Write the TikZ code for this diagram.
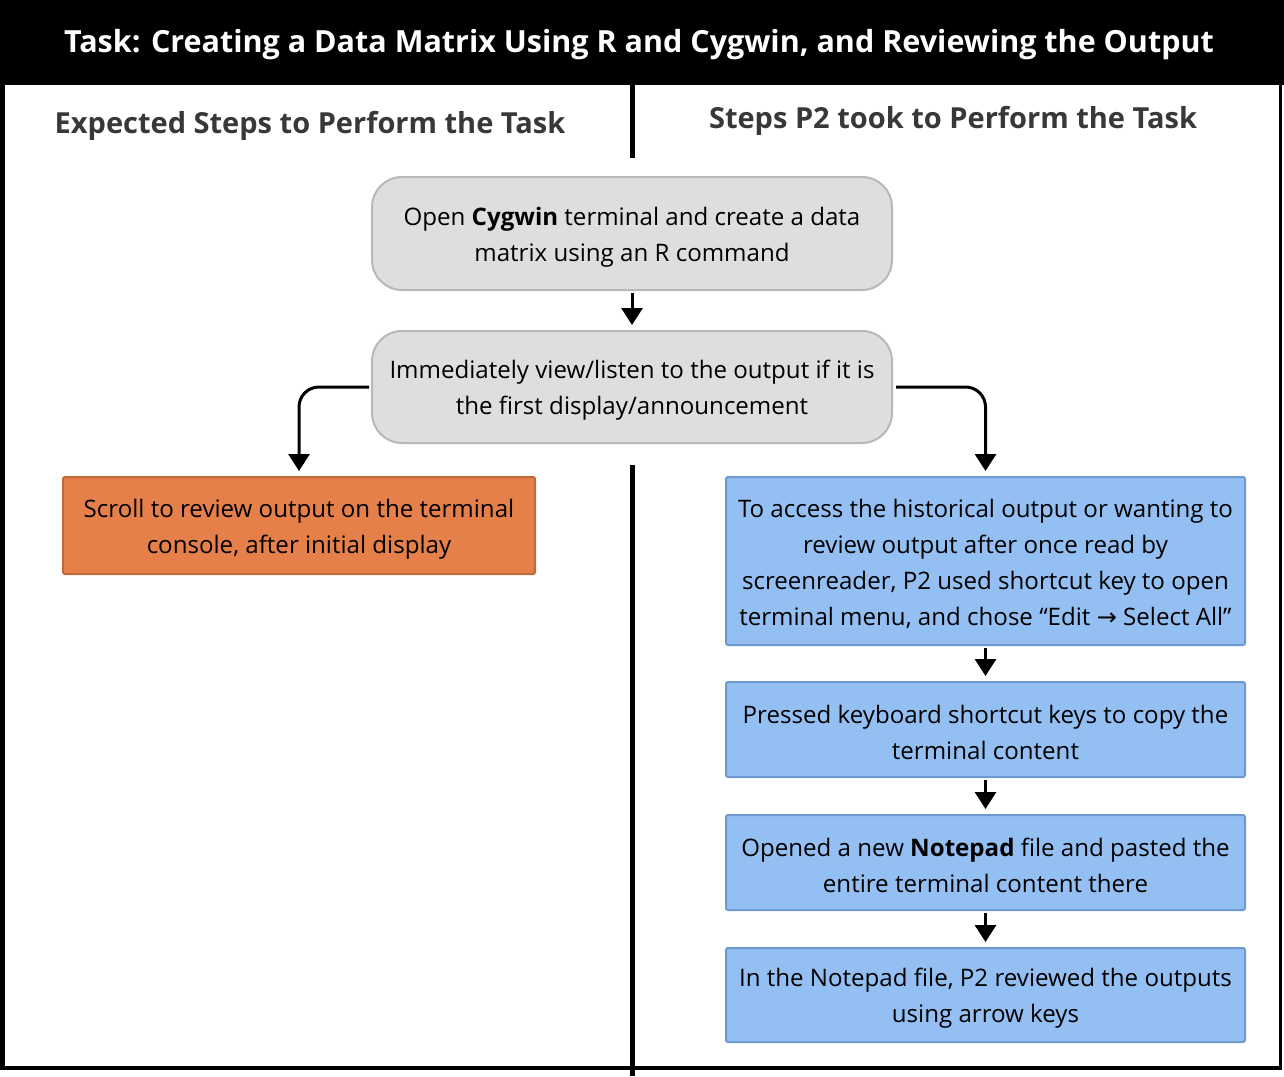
\documentclass[tikz,border=0pt]{standalone}
\usepackage{fontspec}
\setmainfont{Open Sans}
\newfontfamily\dejavu{DejaVu Sans}
\usetikzlibrary{arrows.meta}
\definecolor{grayfill}{HTML}{DEDEDE}
\definecolor{graystroke}{HTML}{B8B8B8}
\definecolor{orangefill}{HTML}{E5804A}
\definecolor{orangestroke}{HTML}{C06A3C}
\definecolor{bluefill}{HTML}{93BFF3}
\definecolor{bluestroke}{HTML}{6F9AD0}
\definecolor{headgray}{HTML}{383838}
\newcommand\topgap{\rule{0pt}{25pt}}
\tikzset{
  body/.style={font=\fontsize{24.1}{36}\selectfont, align=center, inner sep=0pt, text=black},
  graybox/.style={body, draw=graystroke, fill=grayfill, line width=2pt, rounded corners=30pt, minimum width=520pt},
  orangebox/.style={body, draw=orangestroke, fill=orangefill, line width=2pt, rounded corners=2pt, minimum width=472pt},
  bluebox/.style={body, draw=bluestroke, fill=bluefill, line width=2pt, rounded corners=2pt, minimum width=519pt},
  arr/.style={line width=3pt, -{Triangle[width=21pt,length=17pt]}},
  header/.style={font=\fontsize{29}{32}\selectfont\bfseries, text=headgray, inner sep=0pt},
  divider/.style={line width=5pt, black},
}
\begin{document}
\begin{tikzpicture}[x=1pt,y=-1pt]
\useasboundingbox (0,0) rectangle (1284,1076);
\fill[white] (0,0) rectangle (1284,1076);
% frame
\fill[black] (0,0) rectangle (1284,85);
\draw[line width=5pt] (2.5,85) -- (2.5,1068);
\draw[line width=4pt] (0,1068) -- (1281,1068);
\draw[line width=3pt] (1280,85) -- (1280,1070);
\node[font=\fontsize{30.5}{34}\selectfont\bfseries, text=white, inner sep=0pt] (title) at (639,45) {Task: Creating a Data Matrix Using R and Cygwin, and Reviewing the Output};
% headers
\node[header] (hl) at (310,126) {Expected Steps to Perform the Task};
\node[header] (hr) at (953,121) {Steps P2 took to Perform the Task};
% dividers
\draw[divider] (632,85) -- (632,158);
\draw[divider] (632,465) -- (632,1076);
% nodes
\node[graybox, minimum height=113pt] (g1) at (632,233.5) {\topgap Open {\bfseries Cygwin} terminal and create a data\\matrix using an R command};
\node[graybox, minimum height=112pt] (g2) at (632,387) {\topgap Immediately view/listen to the output if it is\\the first display/announcement};
\node[orangebox, minimum height=97pt] (o1) at (299,525.5) {\topgap Scroll to review output on the terminal\\console, after initial display};
\node[bluebox, minimum height=168pt] (b1) at (985.5,561) {\topgap To access the historical output or wanting to\\review output after once read by\\screenreader, P2 used shortcut key to open\\terminal menu, and chose “Edit {\dejavu→} Select All”};
\node[bluebox, minimum height=95pt] (b2) at (985.5,729.5) {\topgap Pressed keyboard shortcut keys to copy the\\terminal content};
\node[bluebox, minimum height=95pt] (b3) at (985.5,862.5) {\topgap Opened a new {\bfseries Notepad} file and pasted the\\entire terminal content there};
\node[bluebox, minimum height=94pt] (b4) at (985.5,995) {\topgap In the Notepad file, P2 reviewed the outputs\\using arrow keys};
% connectors
\draw[arr, shorten <=2pt, shorten >=5pt] (g1) -- (g2);
\draw[arr, rounded corners=20pt] ([xshift=-2pt]g2.west) -| ([yshift=5pt]o1.north);
\draw[arr, rounded corners=20pt] ([xshift=3pt]g2.east) -| ([yshift=5pt]b1.north);
\draw[arr, shorten <=2pt, shorten >=5pt] (b1) -- (b2);
\draw[arr, shorten <=2pt, shorten >=5pt] (b2) -- (b3);
\draw[arr, shorten <=2pt, shorten >=5pt] (b3) -- (b4);
\end{tikzpicture}
\end{document}
